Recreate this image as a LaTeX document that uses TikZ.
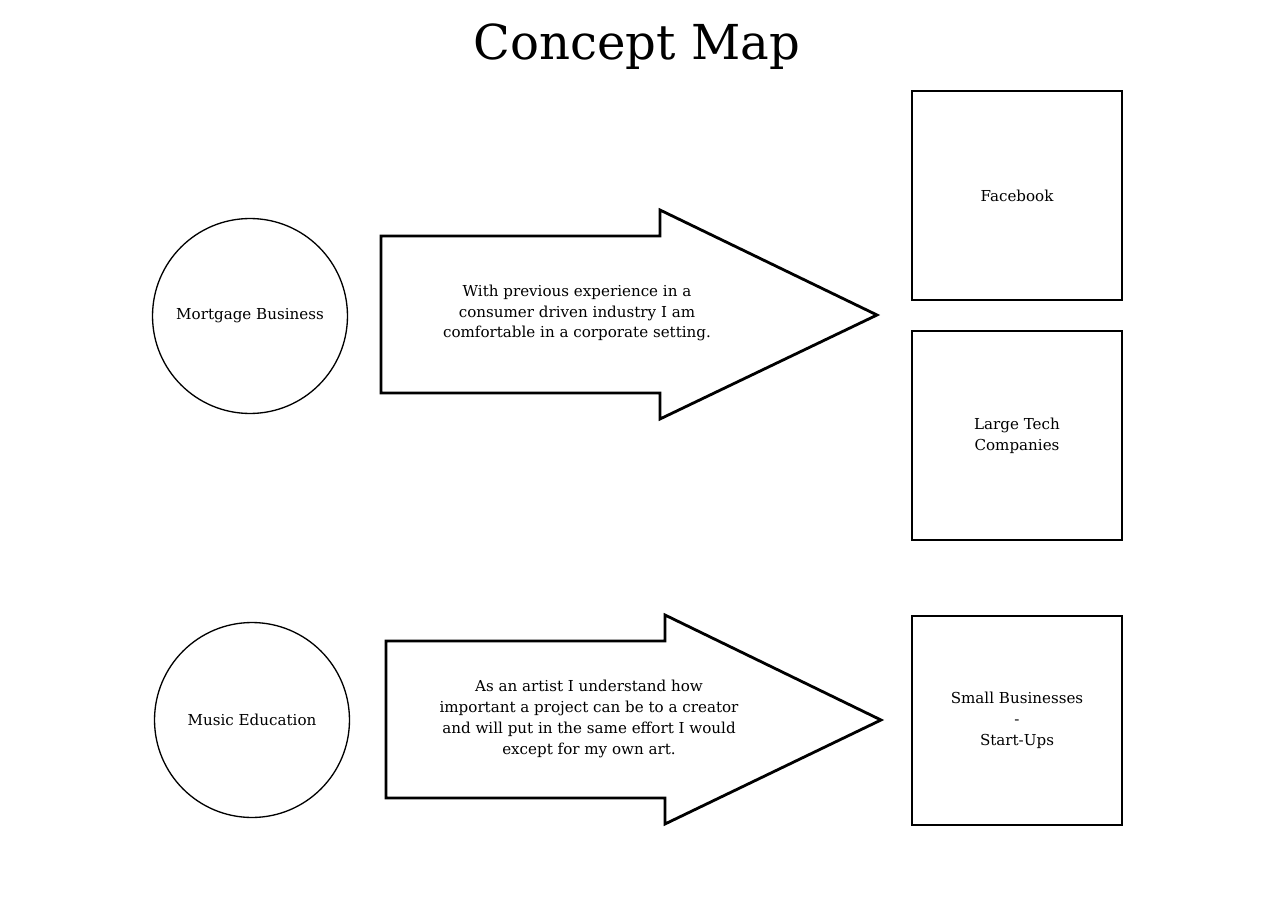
\documentclass[tikz,border=0pt]{standalone}
\usepackage{fontspec}
\setmainfont{DejaVu Serif}
\usepackage{tikz}
\usetikzlibrary{positioning, calc}

\tikzset{
  topic/.style={draw, circle, line width=0.75pt, minimum size=3.9cm, inner sep=0pt, font=\fontsize{8.6}{11.9}\selectfont},
  goal/.style={draw, rectangle, line width=0.65pt, minimum width=4.2cm, minimum height=4.18cm, inner sep=0pt, align=center, font=\fontsize{8.6}{11.9}\selectfont},
  bigarrow/.style={draw, line width=1.6pt, line join=miter},
  reason/.style={align=center, font=\fontsize{8.6}{11.9}\selectfont}
}

\begin{document}
\begin{tikzpicture}[x=0.02cm, y=-0.02cm]
  \useasboundingbox (0,0) rectangle (1275,902);

  % title
  \node (title) at (637,47) {\fontsize{27.4}{32}\selectfont Concept Map};

  % left side
  \node[topic] (mortgage) at (250,316) {Mortgage Business};
  \node[topic] (music) at (252,720) {Music Education};

  % right side
  \node[goal] (facebook) at (1017,195.5) {Facebook};
  \node[goal] (bigtech) at (1017,435.5) {Large Tech\\Companies};
  \node[goal] (small) at (1017,720.5) {Small Businesses\\-\\Start-Ups};

  % arrows
  \draw[bigarrow] (381,236) -- (660,236) -- (660,210) -- (877,315) -- (660,419) -- (660,393) -- (381,393) -- cycle;
  \node[reason] (why1) at (577,313) {With previous experience in a\\consumer driven industry I am\\comfortable in a corporate setting.};

  \draw[bigarrow] (386,641) -- (665,641) -- (665,615) -- (881,720) -- (665,824) -- (665,798) -- (386,798) -- cycle;
  \node[reason] (why2) at (589,719) {As an artist I understand how\\important a project can be to a creator\\and will put in the same effort I would\\except for my own art.};
\end{tikzpicture}
\end{document}
